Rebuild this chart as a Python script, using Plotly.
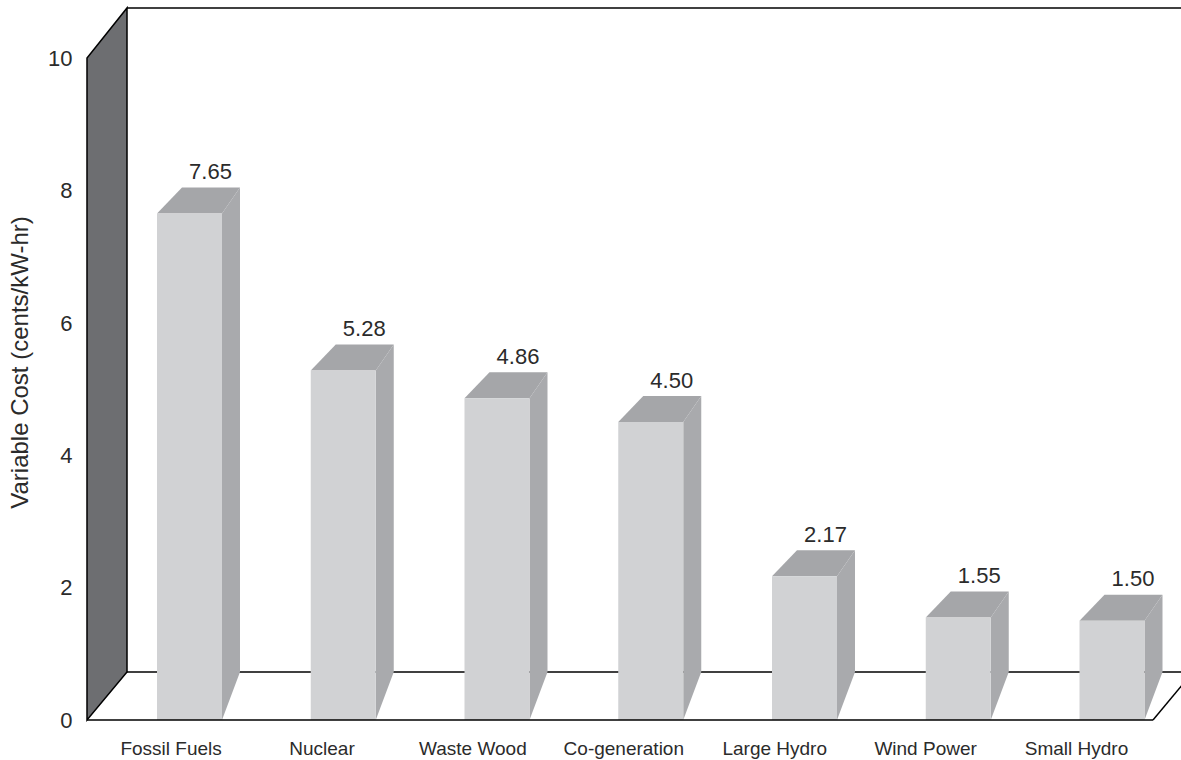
import plotly.graph_objects as go

# ---- data ----
categories = ["Fossil Fuels", "Nuclear", "Waste Wood", "Co-generation",
              "Large Hydro", "Wind Power", "Small Hydro"]
values = [7.65, 5.28, 4.86, 4.50, 2.17, 1.55, 1.50]
value_labels = ["7.65", "5.28", "4.86", "4.50", "2.17", "1.55", "1.50"]
y_ticks = [0, 2, 4, 6, 8, 10]
y_title = "Variable Cost (cents/kW-hr)"

# ---- layout geometry (pixels) ----
W, H = 1181, 760
ML, MR, MT, MB = 85, 0, 0, 35
PX_PER_CAT = 153.75          # horizontal spacing between bars
PX_PER_UNIT = 66.2           # vertical pixels per value unit
X0_PX = 189.5                # pixel centre of first bar
Y0_PX = 720                  # pixel of value 0
LABEL_X0_PX, LABEL_STEP_PX = 171.1, 150.9   # category label placement

ux = 1.0 / PX_PER_CAT        # category units per pixel
uy = 1.0 / PX_PER_UNIT       # value units per pixel

x_range = [(ML - X0_PX) * ux, (W - MR - X0_PX) * ux]
y_range = [-(H - MB - Y0_PX) * uy, Y0_PX * uy]

# 3D-box parameters
WALL_DX, WALL_DY = 40 * ux, 48 * uy
BAR_W = 65 * ux
TOP_DX, TOP_DY = 25 * ux, 26 * uy
SIDE_DX = 18 * ux
floor_left = (87 - X0_PX) * ux
floor_right = (1153 - X0_PX) * ux
y_top = 10.0
back_top = (Y0_PX - 8) * uy

FRONT = "#d1d2d4"
TOP = "#a5a6a9"
SIDE = "#a9aaad"
WALLC = "#6d6e71"
TXT = "#2b2b2b"
FONT = "Liberation Sans, Arial, sans-serif"

def path(pts):
    return "M " + " L ".join(f"{x},{y}" for x, y in pts) + " Z"

shapes = []
line_k = dict(color="black", width=1.5)

# left wall
shapes.append(dict(type="path", xref="x", yref="y", layer="below",
                   path=path([(floor_left, 0), (floor_left, y_top),
                              (floor_left + WALL_DX, back_top),
                              (floor_left + WALL_DX, WALL_DY)]),
                   fillcolor=WALLC, line=line_k))
# back wall top line
shapes.append(dict(type="line", xref="x", yref="y", layer="below",
                   x0=floor_left + WALL_DX, x1=x_range[1] + 1,
                   y0=back_top, y1=back_top, line=line_k))
# back floor line
shapes.append(dict(type="line", xref="x", yref="y", layer="below",
                   x0=floor_left + WALL_DX, x1=x_range[1] + 1,
                   y0=WALL_DY, y1=WALL_DY, line=line_k))
# right floor diagonal
shapes.append(dict(type="line", xref="x", yref="y", layer="below",
                   x0=floor_right, x1=floor_right + WALL_DX,
                   y0=0, y1=WALL_DY, line=line_k))

# bar top and side faces
for i, v in enumerate(values):
    x0 = i - BAR_W / 2
    x1 = i + BAR_W / 2
    shapes.append(dict(type="path", xref="x", yref="y", layer="below",
                       path=path([(x0, v), (x0 + TOP_DX, v + TOP_DY),
                                  (x1 + SIDE_DX, v + TOP_DY), (x1, v)]),
                       fillcolor=TOP, line=dict(width=0)))
    shapes.append(dict(type="path", xref="x", yref="y", layer="below",
                       path=path([(x1, 0), (x1, v),
                                  (x1 + SIDE_DX, v + TOP_DY),
                                  (x1 + SIDE_DX, WALL_DY)]),
                       fillcolor=SIDE, line=dict(width=0)))

# front floor line (above bars)
shapes.append(dict(type="line", xref="x", yref="y", layer="above",
                   x0=floor_left, x1=floor_right, y0=0, y1=0, line=line_k))

idx = list(range(len(categories)))
label_pos = [(LABEL_X0_PX + LABEL_STEP_PX * i - X0_PX) * ux for i in idx]

fig = go.Figure()
fig.add_trace(go.Bar(x=idx, y=values, width=BAR_W,
                     marker=dict(color=FRONT, line=dict(width=0)),
                     hoverinfo="skip", showlegend=False))
fig.add_trace(go.Scatter(x=[i + 21 * ux for i in idx],
                         y=[v + 40 * uy for v in values],
                         text=value_labels, mode="text",
                         textposition="middle center",
                         textfont=dict(family=FONT, size=22, color=TXT),
                         hoverinfo="skip", showlegend=False))

fig.update_layout(
    width=W, height=H,
    margin=dict(l=ML, r=MR, t=MT, b=MB),
    plot_bgcolor="white", paper_bgcolor="white",
    shapes=shapes,
    font=dict(family=FONT, color=TXT),
    xaxis=dict(range=x_range, tickmode="array",
               tickvals=label_pos, ticktext=categories,
               showgrid=False, zeroline=False, showline=False,
               ticks="outside", ticklen=6, tickcolor="rgba(0,0,0,0)",
               tickfont=dict(family=FONT, size=19, color=TXT)),
    yaxis=dict(range=y_range, tickmode="array", tickvals=y_ticks,
               showgrid=False, zeroline=False, showline=False,
               ticks="outside", ticklen=7, tickcolor="rgba(0,0,0,0)",
               tickfont=dict(family=FONT, size=22, color=TXT),
               title=dict(text=y_title, standoff=12,
                          font=dict(family=FONT, size=24, color=TXT))),
)

fig.write_html("out.html")
